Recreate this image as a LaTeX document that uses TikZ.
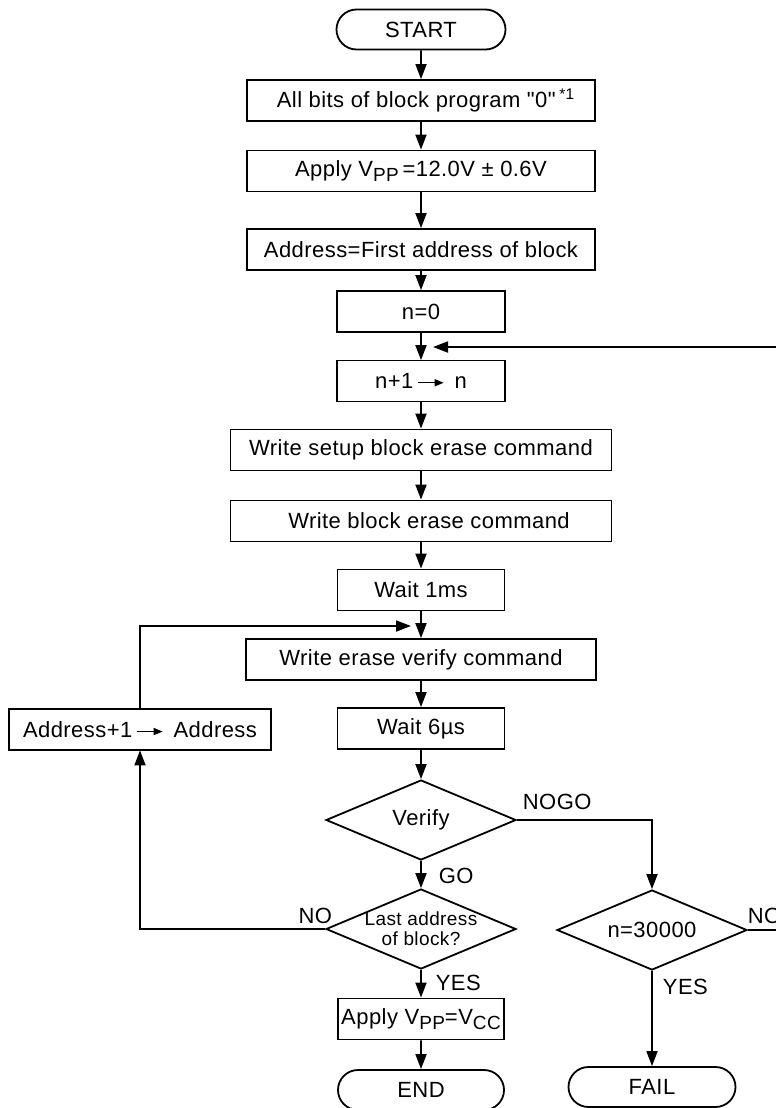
\documentclass[tikz,border=0pt]{standalone}
\usepackage{fontspec}
\setmainfont{Liberation Sans}[LetterSpace=2, Ligatures=TeXOff]
\usetikzlibrary{arrows.meta,shapes.geometric,shapes.misc}
\newcommand{\vsub}[1]{\raisebox{-0.45ex}{\fontsize{9.5}{10}\selectfont #1}}
\newcommand{\arrto}{\tikz[baseline=-0.5ex]\draw[line width=0.7pt,-{Triangle[length=4.5pt,width=3.5pt]}] (0pt,0pt) -- (13pt,0pt);}

\begin{document}
\begin{tikzpicture}[x=0.5pt, y=-0.5pt, line width=0.9pt, font=\fontsize{11}{13}\selectfont,
  box/.style={draw, rectangle, minimum height=20.5pt, inner sep=0pt},
  term/.style={draw, rounded rectangle, minimum width=84pt, minimum height=20pt, inner sep=0pt},
  decide/.style={draw, diamond, aspect=2.4, minimum width=95pt, minimum height=40pt, inner sep=0pt, align=center},
  flow/.style={-{Triangle[length=7.5pt,width=5.5pt]}},
  lbl/.style={inner sep=1pt}]
\useasboundingbox (0,0) rectangle (776,1108);
\fill[white] (0,0) rectangle (776,1108);
\clip (0,0) rectangle (776,1108);
% main column
\node[term, minimum width=84.5pt] (start) at (421,29.5) {START};
\node[box, minimum width=174pt] (bits) at (421,100.5) {\hspace*{5pt}All bits of block program "0"\,\textsuperscript{*1}};
\node[box, minimum width=174pt] (vpp) at (421,171) {Apply V\vsub{PP}\,=12.0V ± 0.6V};
\node[box, minimum width=174pt] (addr) at (421,249.5) {Address=First address of block};
\node[box, minimum width=84pt] (nzero) at (421,311.5) {n=0};
\node[box, minimum width=84pt] (ninc) at (421,381) {n+1\,\arrto\, n};
\node[box, minimum width=190.5pt] (setup) at (421,450) {Write setup block erase command};
\node[box, minimum width=190.5pt] (erase) at (421,521) {\hspace*{8pt}Write block erase command};
\node[box, minimum width=83.5pt] (wait1) at (421,590) {Wait 1ms};
\node[box, minimum width=175pt] (vcmd) at (421,659.5) {Write erase verify command};
\node[box, minimum width=83.5pt] (wait6) at (421,728.5) {Wait 6µs};
\node[decide] (verify) at (421,820) {Verify};
\node[decide, font=\fontsize{9.5}{9.5}\selectfont] (last) at (421,929) {\raisebox{-3.5pt}[0pt][0pt]{\begin{tabular}{@{}c@{}}Last address\\of block?\end{tabular}}};
\node[box, minimum width=83pt] (vcc) at (421,1019) {Apply V\vsub{PP}=V\vsub{CC}};
\node[term, minimum width=83pt] (stop) at (421,1090) {END};
% side branches
\node[box, minimum width=131pt] (addrinc) at (140,729.5) {Address+1\,\arrto\, Address};
\node[decide] (nmax) at (652,930) {n=30000};
\node[term, minimum width=83.5pt] (fail) at (652,1087) {FAIL};
\coordinate (rjoin) at (433,347);
\coordinate (ljoin) at (411,626);
\coordinate (redge) at (800,930);
\foreach \a/\b in {start/bits, bits/vpp, vpp/addr, addr/nzero, nzero/ninc, ninc/setup, setup/erase, erase/wait1, wait1/vcmd, vcmd/wait6, wait6/verify, verify/last, last/vcc, vcc/stop}
  \draw[flow] (\a) -- (\b);
\draw[flow] (verify.east) -| (nmax.north);
\draw[flow] (nmax) -- (fail);
\draw[flow] (nmax.east) -- (redge) |- (rjoin);
\draw[flow] (last.west) -| (addrinc.south);
\draw[flow] (addrinc.north) |- (ljoin);
% branch labels
\node[lbl, anchor=west] (golbl) at (436,876) {GO};
\node[lbl, anchor=west] (yeslbl) at (433,983) {YES};
\node[lbl, anchor=south east] (nolbl) at (335,927) {NO};
\node[lbl, anchor=south west] (nogolbl) at (520,813) {NOGO};
\node[lbl, anchor=south west] (nolblr) at (745,927) {NO};
\node[lbl, anchor=west] (yeslblr) at (660,987) {YES};
\end{tikzpicture}
\end{document}
